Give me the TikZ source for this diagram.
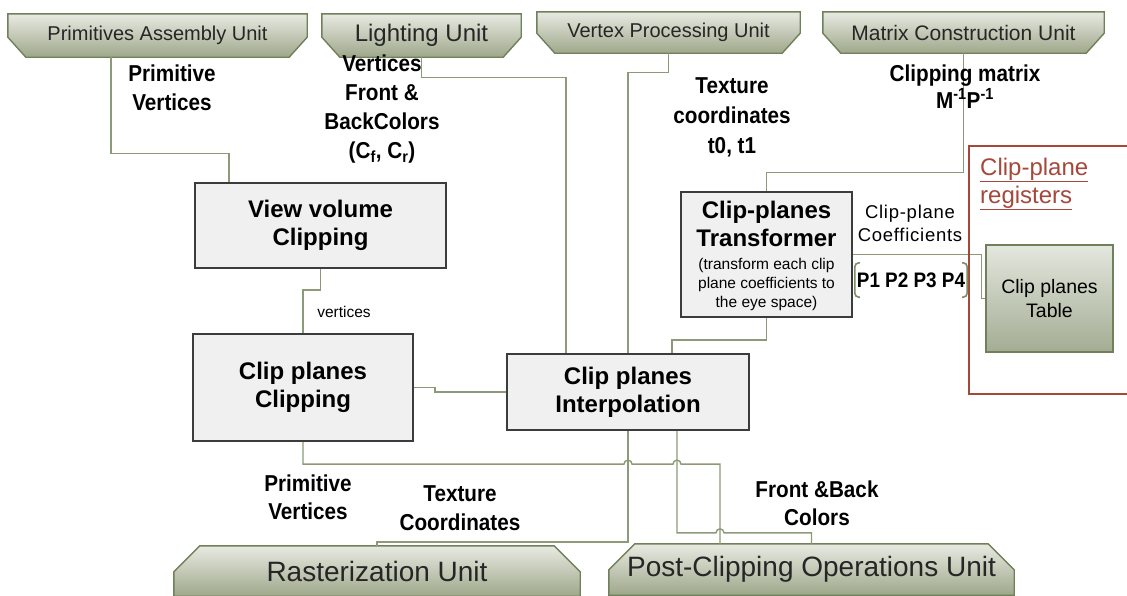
\documentclass[tikz,border=0pt]{standalone}
\usepackage{fontspec}
\setmainfont{Liberation Sans}
\newfontfamily\cnd[FakeStretch=0.9]{Liberation Sans}
\usetikzlibrary{calc,backgrounds}
\definecolor{connc}{RGB}{140,154,120}
\definecolor{unitborder}{RGB}{112,128,90}
\definecolor{unittop}{RGB}{232,234,226}
\definecolor{unitbot}{RGB}{158,167,138}
\definecolor{boxborder}{RGB}{60,60,60}
\definecolor{boxfill}{RGB}{240,240,240}
\definecolor{regred}{RGB}{165,72,58}
\definecolor{tbltop}{RGB}{228,231,222}
\definecolor{tblbot}{RGB}{163,172,147}
\definecolor{brk}{RGB}{125,140,99}
\newcommand\fsz[2]{\fontsize{#1}{#2}\selectfont}
\tikzset{
  conn/.style={draw=connc, line width=1.4pt},
  unitnode/.style={inner sep=0pt, text={black!85}},
  unitshape/.style={draw=unitborder, line width=1.4pt, top color=unittop, bottom color=unitbot},
  procbox/.style={draw=boxborder, line width=2.2pt, fill=boxfill, inner sep=0pt, align=center,
    font=\bfseries\fsz{24}{28}},
  lbl/.style={inner sep=0pt, align=center, font=\cnd\bfseries\fsz{23}{29}},
  brkline/.style={draw=brk, line width=1.6pt, rounded corners=4pt},
}
\begin{document}
\begin{tikzpicture}[x=1pt,y=-1pt]
\useasboundingbox (0,0) rectangle (1127,595);

% top units
\node[unitnode, minimum width=299pt, minimum height=43pt, font=\fsz{20}{24}] (pau) at (157.5,35.5) {Primitives Assembly Unit};
\node[unitnode, minimum width=199pt, minimum height=43pt, font=\fsz{24}{28}] (lu) at (421.5,35.5) {Lighting Unit};
\node[unitnode, minimum width=263pt, minimum height=41pt, font=\fsz{20}{24}] (vpu) at (668.5,32.5) {Vertex Processing Unit};
\node[unitnode, minimum width=281pt, minimum height=41pt, font=\fsz{21}{24}] (mcu) at (963.5,32.5) {Matrix Construction Unit};

% bottom units
\node[unitnode, minimum width=406pt, minimum height=50pt, font=\fsz{28}{32}] (rast) at (377,571) {Rasterization Unit};
\node[unitnode, minimum width=405pt, minimum height=51pt, font=\fsz{28}{32}] (post) at (811.5,569.5) {Post-Clipping Operations Unit};

% unit shapes behind text
\begin{scope}[on background layer]
\foreach \n in {pau,lu,vpu,mcu}{
  \path[unitshape] (\n.north west) -- (\n.north east) -- ($(\n.south east)+(0,-20)$)
    -- ($(\n.south east)+(-18,0)$) -- ($(\n.south west)+(18,0)$)
    -- ($(\n.south west)+(0,-20)$) -- cycle;
}
\foreach \n in {rast,post}{
  \path[unitshape] (\n.south west) -- ($(\n.north west)+(0,26)$) -- ($(\n.north west)+(26,0)$)
    -- ($(\n.north east)+(-26,0)$) -- ($(\n.north east)+(0,26)$) -- (\n.south east) -- cycle;
}
\end{scope}

% processing boxes
\node[procbox, minimum width=251pt, minimum height=85pt] (vvc) at (320.5,225.5) {View volume\\Clipping};
\node[procbox, minimum width=220pt, minimum height=107pt] (cpc) at (303,387.5) {Clip planes\\Clipping};
\node[procbox, minimum width=242pt, minimum height=76pt] (cpi) at (628,392) {Clip planes\\Interpolation};
\node[procbox, minimum width=171pt, minimum height=125pt] (cpt) at (766.5,254.5) {};
\node[inner sep=0pt, align=center, font=\bfseries\fsz{24}{28}] (cptt) at (766.5,224) {Clip-planes\\Transformer};
\node[inner sep=0pt, align=center, font=\fsz{15.5}{19}] (cpts) at (766.5,284) {(transform each clip\\plane coefficients to\\the eye space)};

% register container
\node[draw=regred, line width=1.8pt, minimum width=170pt, minimum height=248pt, inner sep=0pt, anchor=north west] (reg) at (968,145) {};
\node[inner sep=0pt, anchor=west, align=left, text=regred, font=\fsz{24}{28}] (regt) at (980,184) {\underline{Clip-plane}\\\underline{registers}};
\node[draw=unitborder, line width=1.8pt, top color=tbltop, bottom color=tblbot, minimum width=127pt, minimum height=107pt, inner sep=0pt, align=center, font=\fsz{19.5}{24}] (tbl) at (1049.5,298.5) {Clip planes\\Table};

% labels
\node[lbl] (l1) at (172,88) {Primitive\\Vertices};
\node[lbl] (l2) at (382,109) {Vertices\\Front \&\\BackColors\\(C\textsubscript{f}, C\textsubscript{r})};
\node[lbl, font=\cnd\bfseries\fsz{23}{30}] (l3) at (732,117) {Texture\\coordinates\\t0, t1};
\node[lbl, font=\cnd\bfseries\fsz{23}{27}] (l4) at (965,86.5) {Clipping matrix\\M\textsuperscript{-1}P\textsuperscript{-1}};
\node[inner sep=0pt, font=\fsz{15.5}{19}] (l5) at (344,312) {vertices};
\node[inner sep=0pt, align=center, font=\addfontfeature{LetterSpace=4}\fsz{18.5}{23}] (l6) at (910,223.5) {Clip-plane\\Coefficients};
\node[inner sep=0pt, minimum width=112pt, minimum height=34pt, font=\cnd\bfseries\fsz{21}{24}] (pp) at (911,280) {P1 P2 P3 P4};
\node[lbl, font=\cnd\bfseries\fsz{23}{28}] (l7) at (308,497) {Primitive\\Vertices};
\node[lbl] (l8) at (460,508.5) {Texture\\Coordinates};
\node[lbl, font=\cnd\bfseries\fsz{23}{28}] (l9) at (817,503) {Front \&Back\\Colors};

% brackets around P1..P4
\draw[brkline] ([xshift=5pt]pp.north west) -- (pp.north west) -- (pp.south west) -- ([xshift=5pt]pp.south west);
\draw[brkline] ([xshift=-5pt]pp.north east) -- (pp.north east) -- (pp.south east) -- ([xshift=-5pt]pp.south east);

% helper coordinates
\coordinate (h1) at ($(cpc.south)+(0,22)$);
\coordinate (tx) at ($(cpi.south)+(49,0)$);
\coordinate (pv) at ($(post.north)+(-91.5,0)$);
\coordinate (h2) at ($(post.north)+(0,-11)$);

% connectors
\begin{scope}[on background layer]
\draw[conn] ([xshift=-46.5pt]pau.south) -- ++(0,96) -| ([xshift=-91.5pt]vvc.north);
\draw[conn] (lu.south) -- ++(0,20) -| ([xshift=-62pt]cpi.north);
\draw[conn] (vpu.south) -- ++(0,19) -| (cpi.north);
\draw[conn] (mcu.south) -- ++(0,119) -| (cpt.north);
\draw[conn] (vvc.south) -- ++(0,21) -| (cpc.north);
\draw[conn] (cpc.east) -- ++(21,0) |- (cpi.west);
\draw[conn] (cpt.south) -- ++(0,22) -| ([xshift=44pt]cpi.north);
\draw[conn] (cpt.east) -- ++(128.5,0) |- (tbl.west);
\draw[conn] (cpi.south) -- ++(0,111) -| (rast.north);
\draw[conn] (cpc.south) -- (h1) -- ($(h1 -| cpi.south)+(-4,0)$) arc[start angle=180,end angle=0,radius=4pt]
  -- ($(h1 -| tx)+(-4,0)$) arc[start angle=180,end angle=0,radius=4pt] -- (h1 -| pv) -- (pv);
\draw[conn] (tx) -- (tx |- h2) -- ($(h2 -| pv)+(-4,0)$) arc[start angle=180,end angle=0,radius=4pt]
  -- (h2 -| post.north) -- (post.north);
\end{scope}
\end{tikzpicture}
\end{document}
